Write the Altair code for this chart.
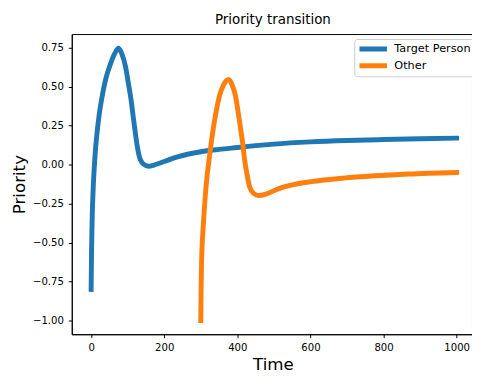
import altair as alt
import pandas as pd

# ---- data ----
series_names = ["Target Person", "Other"]
series_colors = ["#1f77b4", "#ff7f0e"]

target_t = [0, 1, 2, 3, 4, 6, 8, 11, 16, 22, 28, 40, 52, 64, 75, 84, 94, 102, 109,
            115, 120, 126, 132, 140, 150, 158, 170, 200, 234, 300, 350, 400, 450,
            500, 600, 700, 800, 900, 1000]
target_v = [-0.80, -0.58, -0.44, -0.33, -0.25, -0.13, -0.04, 0.07, 0.20, 0.32, 0.41,
            0.55, 0.64, 0.71, 0.747, 0.71, 0.63, 0.52, 0.42, 0.31, 0.22, 0.12, 0.05,
            0.01, -0.005, -0.01, -0.004, 0.02, 0.048, 0.083, 0.098, 0.11, 0.122,
            0.132, 0.146, 0.155, 0.161, 0.166, 0.17]

other_t = [300, 301, 302, 304, 306, 309, 312, 316, 322, 328, 334, 342, 351, 362, 376,
           386, 395, 402, 409, 415, 420, 427, 434, 445, 458, 480, 512, 550, 601, 690,
           780, 869, 1000]
other_v = [-1.0, -0.78, -0.64, -0.50, -0.42, -0.31, -0.21, -0.10, 0.02, 0.13, 0.23,
           0.34, 0.44, 0.51, 0.546, 0.51, 0.44, 0.34, 0.23, 0.13, 0.03, -0.07, -0.145,
           -0.185, -0.198, -0.187, -0.155, -0.13, -0.109, -0.086, -0.071, -0.060, -0.050]

x_ticks = [0, 200, 400, 600, 800, 1000]
y_ticks = [-1.0, -0.75, -0.5, -0.25, 0.0, 0.25, 0.5, 0.75]

df = pd.concat([
    pd.DataFrame({"Time": target_t, "Priority": target_v, "Series": series_names[0]}),
    pd.DataFrame({"Time": other_t, "Priority": other_v, "Series": series_names[1]}),
], ignore_index=True)

FONT = "DejaVu Sans"

chart = alt.Chart(df).mark_line(
    strokeWidth=5, strokeCap="square", interpolate="monotone", clip=True
).encode(
    x=alt.X("Time:Q",
            scale=alt.Scale(domain=[-53, 1042], nice=False, zero=False),
            axis=alt.Axis(values=x_ticks, format="d", title="Time",
                          labelBaseline="alphabetic", labelPadding=12.7,
                          labelFlush=False, labelOverlap=False,
                          titleX=205, titleY=35.7, titleBaseline="alphabetic",
                          titleAlign="center", titleAngle=0)),
    y=alt.Y("Priority:Q",
            scale=alt.Scale(domain=[-1.0875, 0.8375], nice=False, zero=False),
            axis=alt.Axis(values=y_ticks, format=".2f", title="Priority",
                          labelBaseline="middle", labelPadding=5,
                          labelFlush=False, labelOverlap=False,
                          titleX=-48, titleY=153, titleAngle=270,
                          titleBaseline="alphabetic", titleAlign="center")),
    color=alt.Color("Series:N",
                    scale=alt.Scale(domain=series_names, range=series_colors),
                    legend=alt.Legend(title=None, orient="none", legendX=288, legendY=5,
                                      symbolType="M-2.8,0L2.8,0", symbolSize=100,
                                      symbolStrokeWidth=5, symbolOffset=9,
                                      labelOffset=14, padding=2.8, rowPadding=2,
                                      clipHeight=15,
                                      labelFont=FONT, labelFontSize=11.5,
                                      labelColor="black",
                                      strokeColor="#cccccc", fillColor="#ffffff",
                                      cornerRadius=3)),
).properties(
    width=408,
    height=306,
    padding={"left": 65, "top": 23, "right": 0, "bottom": 39},
    autosize=alt.AutoSizeParams(type="none"),
    title=alt.TitleParams(text="Priority transition", font=FONT, fontSize=13.7,
                          fontWeight="normal", color="black", anchor="middle",
                          baseline="alphabetic", offset=7.7, dx=1, dy=10.8),
).configure_view(
    stroke="black", strokeWidth=1
).configure_axis(
    domainColor="black", domainWidth=1, tickColor="black", tickWidth=1,
    tickSize=3.5, labelColor="black", labelFont=FONT, labelFontSize=10.3,
    grid=False, titleFont=FONT, titleFontSize=17, titleFontWeight="normal",
    titleColor="black"
)

chart.save("out.html", embed_options={"renderer": "svg", "actions": False})
